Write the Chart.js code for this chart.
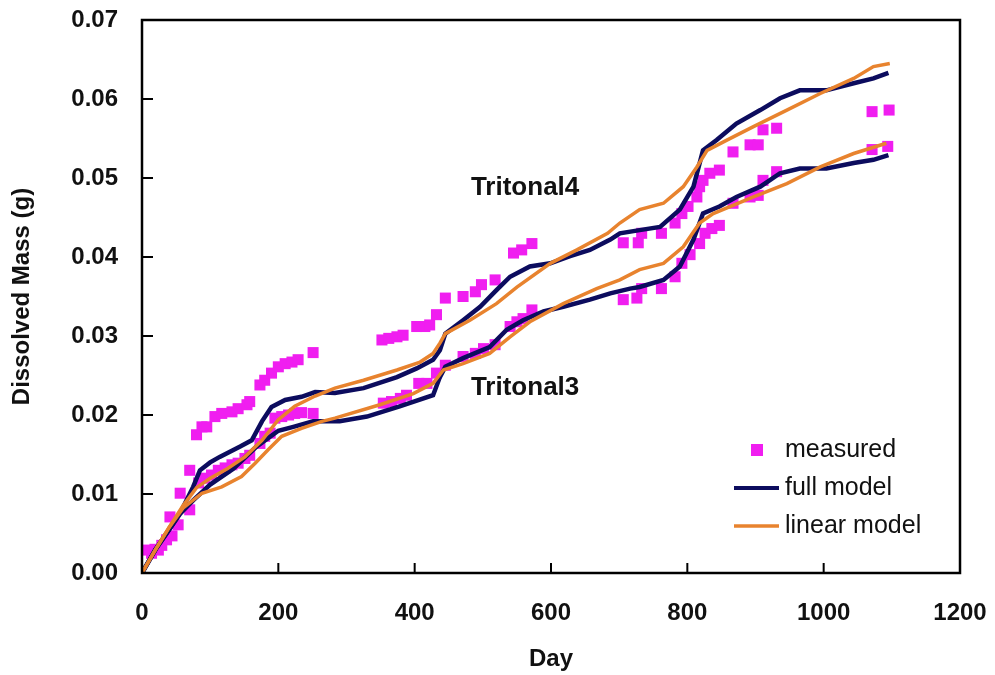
<!DOCTYPE html>
<html>
<head>
<meta charset="utf-8">
<title>Dissolved Mass</title>
<script src="https://cdn.jsdelivr.net/npm/chart.js@4.4.1/dist/chart.umd.min.js"></script>
<style>
  html, body { margin: 0; padding: 0; background: #fff; }
  #wrap { width: 995px; height: 675px; }
</style>
</head>
<body>
<div id="wrap"><canvas id="massChart" width="995" height="675"></canvas></div>
<script>
// axis ticks
const xTicks = [0, 200, 400, 600, 800, 1000, 1200];
const yTicks = [0, 0.01, 0.02, 0.03, 0.04, 0.05, 0.06, 0.07];

// measured points, Tritonal4 (upper) and Tritonal3 (lower)
const t4MeasDays = [9, 19, 29, 41, 56, 70, 80, 88, 95, 107, 117, 132, 141, 154, 158, 173, 180, 190, 200, 210, 220, 229, 251,
  352, 362, 374, 383, 403, 415, 422, 432, 445, 471, 489, 498, 518, 545, 557, 572,
  706, 728, 733, 762, 782, 792, 801, 814, 818, 823, 833, 847, 867, 892, 904, 911, 931, 1071, 1096];
const t4MeasVals = [0.0029, 0.003, 0.0035, 0.0071, 0.0101, 0.013, 0.0175, 0.0185, 0.0185, 0.0198, 0.0202, 0.0204, 0.0208, 0.0213, 0.0217, 0.0238, 0.0244, 0.0253, 0.0261, 0.0265, 0.0267, 0.027, 0.0279,
  0.0295, 0.0297, 0.0299, 0.0301, 0.0312, 0.0312, 0.0314, 0.0327, 0.0348, 0.035, 0.0356, 0.0365, 0.0371, 0.0405, 0.0409, 0.0417,
  0.0418, 0.0418, 0.043, 0.043, 0.0443, 0.0455, 0.0464, 0.0476, 0.0489, 0.0497, 0.0506, 0.051, 0.0533, 0.0542, 0.0542, 0.0561, 0.0563, 0.0584, 0.0586];

const t3MeasDays = [14, 24, 36, 44, 53, 70, 83, 92, 102, 112, 122, 132, 141, 151, 158, 173, 180, 188, 195, 205, 215, 224, 234, 251,
  354, 366, 379, 388, 406, 418, 432, 445, 471, 489, 501, 518, 540, 550, 559, 572,
  706, 726, 733, 762, 782, 792, 804, 818, 826, 836, 847, 867, 892, 904, 911, 931, 1071, 1094];
const t3MeasVals = [0.0025, 0.0029, 0.0042, 0.0047, 0.0061, 0.008, 0.0114, 0.012, 0.0124, 0.013, 0.0133, 0.0137, 0.0139, 0.0145, 0.0149, 0.0164, 0.0173, 0.0177, 0.0196, 0.0198, 0.02, 0.0202, 0.0203, 0.0202,
  0.0215, 0.0217, 0.0221, 0.0225, 0.024, 0.024, 0.0253, 0.0263, 0.0274, 0.0278, 0.0284, 0.0289, 0.0312, 0.0318, 0.0322, 0.0333,
  0.0346, 0.0348, 0.036, 0.036, 0.0375, 0.0392, 0.0403, 0.0417, 0.043, 0.0436, 0.044, 0.0468, 0.0476, 0.0478, 0.0497, 0.0508, 0.0536, 0.054];

// full model curves
const t4FullDays = [0, 20, 40, 56, 75, 85, 100, 114, 144, 161, 176, 190, 210, 234, 254, 283, 325, 374, 403, 427, 437, 445, 471, 496, 520, 540, 569, 599, 628, 657, 687, 701, 730, 760, 789, 809, 823, 843, 872, 907, 936, 965, 1004, 1044, 1073, 1095];
const t4FullVals = [0, 0.003, 0.0055, 0.0076, 0.0109, 0.013, 0.014, 0.0147, 0.016, 0.0168, 0.0192, 0.021, 0.0219, 0.0223, 0.0229, 0.0228, 0.0234, 0.0248, 0.0259, 0.027, 0.0282, 0.0303, 0.032, 0.0337, 0.0358, 0.0375, 0.0388, 0.0392, 0.0401, 0.0409, 0.0422, 0.043, 0.0434, 0.0438, 0.046, 0.0489, 0.0535, 0.0548, 0.0569, 0.0586, 0.0601, 0.0611, 0.0611, 0.062, 0.0626, 0.0633];

const t3FullDays = [0, 20, 40, 56, 75, 100, 134, 168, 200, 222, 251, 290, 330, 378, 427, 437, 445, 471, 510, 535, 559, 589, 618, 657, 687, 716, 730, 765, 789, 809, 823, 847, 872, 907, 936, 965, 1004, 1044, 1073, 1095];
const t3FullVals = [0, 0.003, 0.0055, 0.0075, 0.0092, 0.0112, 0.0132, 0.016, 0.018, 0.0185, 0.0192, 0.0192, 0.0198, 0.0211, 0.0225, 0.0248, 0.0261, 0.0272, 0.0286, 0.0308, 0.032, 0.0331, 0.0337, 0.0346, 0.0354, 0.036, 0.0362, 0.0371, 0.0388, 0.0422, 0.0455, 0.0464, 0.0476, 0.0489, 0.0506, 0.0512, 0.0512, 0.0519, 0.0523, 0.0529];

// linear model curves
const t4LinDays = [0, 20, 40, 60, 80, 100, 125, 151, 176, 200, 224, 254, 283, 325, 374, 408, 427, 437, 445, 481, 520, 550, 599, 638, 683, 701, 730, 765, 794, 814, 829, 858, 897, 946, 995, 1044, 1073, 1097];
const t4LinVals = [0, 0.003, 0.0058, 0.0085, 0.0108, 0.012, 0.0132, 0.0147, 0.0168, 0.0194, 0.0211, 0.0224, 0.0234, 0.0244, 0.0257, 0.0267, 0.0278, 0.0291, 0.0303, 0.032, 0.0341, 0.0362, 0.0392, 0.0409, 0.043, 0.0443, 0.046, 0.0468, 0.0489, 0.0514, 0.0535, 0.0548, 0.0565, 0.0586, 0.0607, 0.0626, 0.0641, 0.0645];

const t3LinDays = [0, 20, 40, 60, 88, 117, 146, 166, 185, 205, 234, 264, 283, 349, 398, 427, 442, 471, 510, 540, 569, 618, 667, 701, 730, 765, 794, 818, 838, 897, 946, 995, 1044, 1092];
const t3LinVals = [0, 0.003, 0.0058, 0.0082, 0.0101, 0.0109, 0.0122, 0.0139, 0.0156, 0.0173, 0.0183, 0.0192, 0.0196, 0.0213, 0.0227, 0.024, 0.0257, 0.0265, 0.0278, 0.0299, 0.0318, 0.0341, 0.036, 0.0371, 0.0384, 0.0392, 0.0413, 0.0443, 0.0455, 0.0476, 0.0493, 0.0514, 0.0531, 0.0544];

const seriesNames = ['measured', 'full model', 'linear model'];
const curveLabels = [{ text: 'Tritonal4', day: 562, val: 0.0487 }, { text: 'Tritonal3', day: 562, val: 0.0235 }];

const MAGENTA = '#f01ef0';
const NAVY = '#0c0c5e';
const ORANGE = '#e8832e';
const FONT = "'Liberation Sans', Arial, sans-serif";

const zip = (xs, ys) => xs.map((x, i) => ({ x, y: ys[i] }));

function lineSet(label, days, vals, color, width) {
    return { label, data: zip(days, vals), showLine: true, borderColor: color, borderWidth: width,
        pointRadius: 0, tension: 0, fill: false, order: color === ORANGE ? 1 : 2 };
}
function pointSet(label, days, vals) {
    return { label, data: zip(days, vals), showLine: false, pointStyle: 'rect', pointRadius: 7.8,
        backgroundColor: MAGENTA, borderColor: MAGENTA, borderWidth: 0, order: 3 };
}

// the scales should not push the plot box around; layout padding decides it
function noScalePadding(s) {
    s.paddingTop = 0; s.paddingBottom = 0; s.paddingLeft = 0; s.paddingRight = 0;
}

// frame, inward ticks, curve labels and legend
const decorations = {
    id: 'decorations',
    afterDatasetsDraw(chart) {
        const { ctx, chartArea: a, scales: { x, y } } = chart;
        ctx.save();
        ctx.strokeStyle = '#000';
        ctx.lineWidth = 2;
        ctx.beginPath();
        xTicks.slice(1, -1).forEach(v => { const px = x.getPixelForValue(v); ctx.moveTo(px, a.bottom); ctx.lineTo(px, a.bottom - 10); });
        yTicks.slice(1, -1).forEach(v => { const py = y.getPixelForValue(v); ctx.moveTo(a.left, py); ctx.lineTo(a.left + 11, py); });
        ctx.stroke();
        ctx.lineWidth = 2.5;
        ctx.strokeRect(a.left, a.top, a.right - a.left, a.bottom - a.top);

        ctx.fillStyle = '#111';
        ctx.font = `bold 26px ${FONT}`;
        ctx.textAlign = 'center';
        ctx.textBaseline = 'middle';
        curveLabels.forEach(c => ctx.fillText(c.text, x.getPixelForValue(c.day), y.getPixelForValue(c.val)));

        const lx = 734, tx = 785, rows = [450, 488, 526];
        ctx.fillStyle = MAGENTA;
        ctx.fillRect(751, rows[0] - 6, 12, 12);
        ctx.lineWidth = 4;
        ctx.strokeStyle = NAVY;
        ctx.beginPath(); ctx.moveTo(lx, rows[1]); ctx.lineTo(lx + 45, rows[1]); ctx.stroke();
        ctx.lineWidth = 3.5;
        ctx.strokeStyle = ORANGE;
        ctx.beginPath(); ctx.moveTo(lx, rows[2]); ctx.lineTo(lx + 45, rows[2]); ctx.stroke();
        ctx.fillStyle = '#111';
        ctx.font = `25px ${FONT}`;
        ctx.textAlign = 'left';
        seriesNames.forEach((n, i) => ctx.fillText(n, tx, rows[i]));
        ctx.restore();
    }
};

Chart.defaults.font.family = FONT;
Chart.defaults.color = '#111';

new Chart(document.getElementById('massChart'), {
    type: 'scatter',
    data: {
        datasets: [
            lineSet('linear model', t4LinDays, t4LinVals, ORANGE, 3.5),
            lineSet('linear model', t3LinDays, t3LinVals, ORANGE, 3.5),
            lineSet('full model', t4FullDays, t4FullVals, NAVY, 4.5),
            lineSet('full model', t3FullDays, t3FullVals, NAVY, 4.5),
            pointSet('measured', t4MeasDays, t4MeasVals),
            pointSet('measured', t3MeasDays, t3MeasVals)
        ]
    },
    options: {
        responsive: false,
        animation: false,
        devicePixelRatio: 1,
        layout: { padding: { top: 20, right: 35, left: 0, bottom: 0 } },
        plugins: { legend: { display: false }, tooltip: { enabled: false } },
        scales: {
            x: {
                type: 'linear', min: 0, max: 1200,
                afterBuildTicks: s => { s.ticks = xTicks.map(v => ({ value: v })); },
                afterFit: s => { s.height = 102; noScalePadding(s); },
                ticks: { font: { size: 24, weight: 'bold' }, color: '#111', padding: 26, maxRotation: 0, callback: v => String(v) },
                grid: { display: false, drawTicks: false },
                border: { display: false },
                title: { display: true, text: 'Day', font: { size: 24, weight: 'bold' }, color: '#111', padding: { top: 0, bottom: 1 } }
            },
            y: {
                type: 'linear', min: 0, max: 0.07,
                afterBuildTicks: s => { s.ticks = yTicks.map(v => ({ value: v })); },
                afterFit: s => { s.width = 142; noScalePadding(s); },
                ticks: { font: { size: 24, weight: 'bold' }, color: '#111', padding: 24, callback: v => v.toFixed(2) },
                grid: { display: false, drawTicks: false },
                border: { display: false },
                title: { display: true, text: 'Dissolved Mass (g)', font: { size: 24, weight: 'bold' }, color: '#111', padding: { top: 8, bottom: 0 } }
            }
        }
    },
    plugins: [decorations]
});
</script>
</body>
</html>
